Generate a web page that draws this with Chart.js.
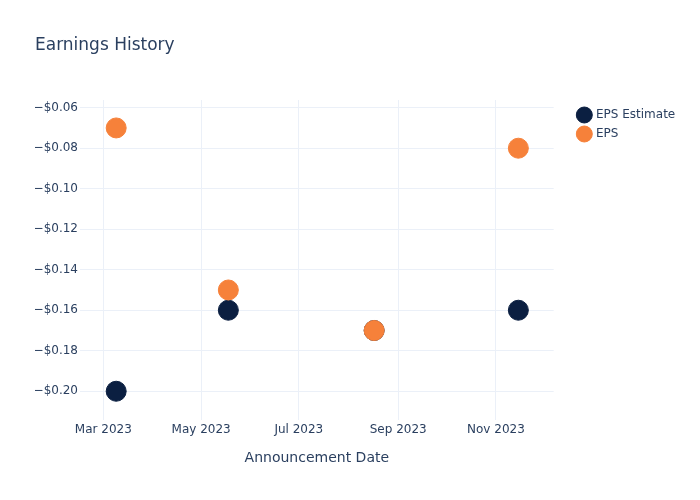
<!DOCTYPE html>
<html>
<head>
<meta charset="utf-8">
<script src="https://cdn.jsdelivr.net/npm/chart.js@4"></script>
<style>
  body { margin: 0; background: #fff; }
</style>
</head>
<body>
<canvas id="myChart" width="700" height="500"></canvas>
<script>
const dates = ["2023-03-09", "2023-05-18", "2023-08-17", "2023-11-15"];
const epsEstimate = [-0.2, -0.16, -0.17, -0.16];
const eps = [-0.07, -0.15, -0.17, -0.08];
const monthTicks = ["2023-03-01", "2023-05-01", "2023-07-01", "2023-09-01", "2023-11-01"];
const yTicks = [-0.2, -0.18, -0.16, -0.14, -0.12, -0.1, -0.08, -0.06];

const MONTHS = ["Jan", "Feb", "Mar", "Apr", "May", "Jun", "Jul", "Aug", "Sep", "Oct", "Nov", "Dec"];
const textColor = "#2a3f5f";
const gridColor = "#ebf0f8";

Chart.defaults.font.family = "'DejaVu Sans', sans-serif";
Chart.defaults.color = textColor;

const toPoints = (vals) => vals.map((v, i) => ({ x: Date.parse(dates[i]), y: v }));

const ctx = document.getElementById("myChart");

new Chart(ctx, {
  type: "scatter",
  data: {
    datasets: [
      {
        label: "EPS Estimate",
        data: toPoints(epsEstimate),
        backgroundColor: "#0b1f41",
        borderColor: "#0b1f41",
        radius: 10,
        hoverRadius: 10,
        order: 1,
      },
      {
        label: "EPS",
        data: toPoints(eps),
        backgroundColor: "#f6813a",
        borderColor: "#f6813a",
        radius: 10,
        hoverRadius: 10,
        order: 0,
      },
    ],
  },
  options: {
    responsive: false,
    animation: false,
    layout: { padding: { left: 35, right: 21, top: 0, bottom: 33 } },
    plugins: {
      title: {
        display: true,
        text: "Earnings History",
        align: "start",
        color: textColor,
        font: { size: 17, weight: "normal" },
        padding: { top: 35, bottom: 44.6 },
      },
      legend: {
        position: "right",
        align: "start",
        // empty legend title only pushes the items down to the plot top
        title: { display: true, text: "", padding: { top: 87.6, bottom: 0 } },
        labels: {
          usePointStyle: true,
          pointStyle: "circle",
          boxWidth: 11.3,
          boxHeight: 11.3,
          padding: 7,
          color: textColor,
          font: { size: 12 },
          sort: (a, b) => a.datasetIndex - b.datasetIndex,
        },
      },
      tooltip: { enabled: false },
    },
    scales: {
      x: {
        type: "linear",
        min: Date.UTC(2023, 1, 14, 10),
        max: Date.UTC(2023, 11, 7, 1),
        afterBuildTicks: (s) => {
          s.ticks = monthTicks.map((d) => ({ value: Date.parse(d) }));
        },
        ticks: {
          padding: 3,
          maxRotation: 0,
          autoSkip: false,
          font: { size: 12 },
          callback: (v) => {
            const d = new Date(v);
            return MONTHS[d.getUTCMonth()] + " " + d.getUTCFullYear();
          },
        },
        grid: { color: gridColor, drawTicks: false },
        border: { display: false },
        title: {
          display: true,
          text: "Announcement Date",
          font: { size: 14 },
          padding: { top: 10, bottom: 0 },
        },
      },
      y: {
        min: -0.2141,
        max: -0.0562,
        afterBuildTicks: (s) => {
          s.ticks = yTicks.map((v) => ({ value: v }));
        },
        afterFit: (s) => {
          s.width = 45;
        },
        ticks: {
          padding: 2,
          font: { size: 12 },
          callback: (v) => "\u2212$" + Math.abs(v).toFixed(2),
        },
        grid: { color: gridColor, drawTicks: false },
        border: { display: false },
      },
      gap: {
        position: "right",
        grid: { display: false },
        ticks: { display: false },
        border: { display: false },
        afterFit: (s) => {
          s.width = 18;
        },
      },
    },
  },
});
</script>
</body>
</html>
